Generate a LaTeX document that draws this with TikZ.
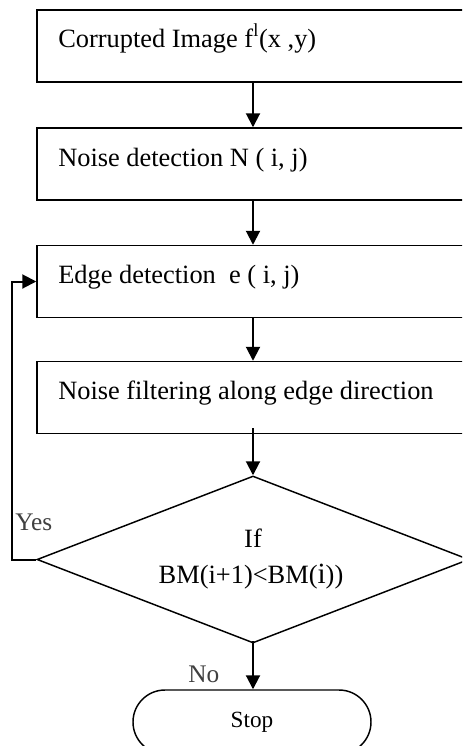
\documentclass[tikz,border=0pt]{standalone}
\usepackage{fontspec}
\setmainfont{Liberation Serif}
\usetikzlibrary{arrows.meta,shapes.geometric,shapes.misc}
\definecolor{labelgray}{HTML}{404040}
\tikzset{
  stepbox/.style={draw, line width=1.1pt, rectangle, inner sep=0pt,
    minimum width=332.25pt, minimum height=54pt},
  steptext/.style={anchor=base west, inner sep=0pt, font=\fontsize{19.8}{22}\selectfont},
  decision/.style={draw, line width=1.1pt, diamond, inner sep=0pt,
    minimum width=324pt, minimum height=125.25pt},
  condtext/.style={inner sep=0pt, anchor=base, font=\fontsize{19.8}{22}\selectfont},
  terminal/.style={draw, line width=1.1pt, rounded rectangle, inner sep=0pt,
    minimum width=178.5pt, minimum height=48pt, font=\fontsize{17.4}{19}\selectfont},
  flow/.style={line width=1.5pt, -{Triangle[length=10.5pt,width=10.5pt]}},
  answer/.style={text=labelgray, inner sep=0pt, anchor=base west,
    font=\fontsize{19}{21}\selectfont},
}
\begin{document}
\begin{tikzpicture}[x=0.75pt, y=-0.75pt]
  \useasboundingbox (0,0) rectangle (462,746);
  \clip (0,0) rectangle (462,746);

  % process boxes (they run past the right border)
  \node[stepbox] (b1) at (258.5,46) {};
  \node[stepbox] (b2) at (258.5,164) {};
  \node[stepbox] (b3) at (258.5,281.5) {};
  \node[stepbox] (b4) at (258.5,397.5) {};

  \node[steptext] (t1) at (58,47) {Corrupted Image f\textsuperscript{l}(x ,y)};
  \node[steptext] (t2) at (58,166) {Noise detection N ( i, j)};
  \node[steptext] (t3) at (58,283) {Edge detection\ \ e ( i, j)};
  \node[steptext] (t4) at (58,399) {Noise filtering along edge direction};

  % decision and end
  \node[decision] (d) at (253,559.5) {};
  \node[condtext] (dif) at (253,547) {If};
  \node[condtext] (dcond) at (251,583) {BM(i+1)<BM({\fontsize{22}{24}\selectfont i}))};

  \node[terminal] (stop) at (252,722) {Stop};

  \coordinate (axis) at (253,0);

  % main flow
  \draw[flow] (b1.south -| axis) -- (b2.north -| axis);
  \draw[flow] (b2.south -| axis) -- (b3.north -| axis);
  \draw[flow] (b3.south -| axis) -- (b4.north -| axis);
  \draw[flow] ([yshift=4.5pt]b4.south -| axis) -- (d.north);
  \draw[flow] ([yshift=2pt]d.south) -- (stop.north -| axis);

  % feedback loop
  \draw[flow] (d.west) -- ++(-24,0) |- (b3.west);

  \node[answer] (yes) at (15,530) {Yes};
  \node[answer] (no) at (188,682) {No};
\end{tikzpicture}
\end{document}
